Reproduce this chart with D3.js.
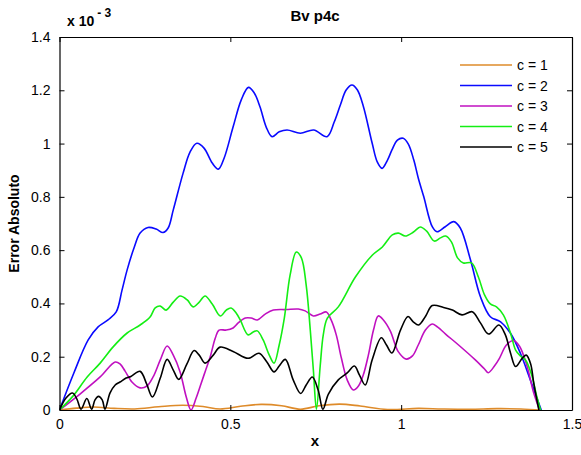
<!DOCTYPE html>
<html>
<head>
<meta charset="utf-8">
<script src="https://cdn.jsdelivr.net/npm/d3@7"></script>
<style>
  body { margin: 0; background: #fff; }
  text { font-family: "Liberation Sans", Arial, sans-serif; fill: #000; }
</style>
</head>
<body>
<div id="chart"></div>
<script>
// values are in units of 1e-3
const labels = ["c = 1", "c = 2", "c = 3", "c = 4", "c = 5"];
const colors = ["#de8b2a", "#0a0aff", "#c010c0", "#14ee14", "#000000"];
const xTicks = [0, 0.5, 1, 1.5];
const yTicks = [0, 0.2, 0.4, 0.6, 0.8, 1, 1.2, 1.4];

const c1 = [[0,0],[0.05,0.007],[0.1,0.011],[0.16,0.006],[0.22,0.004],[0.29,0.012],[0.36,0.018],[0.42,0.013],
  [0.47,0.004],[0.53,0.014],[0.59,0.021],[0.65,0.016],[0.705,0.003],[0.76,0.016],[0.82,0.022],[0.88,0.015],
  [0.96,0.002],[1.05,0.006],[1.12,0.004],[1.2,0.003],[1.28,0.005],[1.35,0.004],[1.41,0]];

const c2 = [[0,0],[0.042,0.139],[0.084,0.263],[0.113,0.312],[0.142,0.338],[0.166,0.368],[0.183,0.450],[0.198,0.526],
  [0.218,0.608],[0.236,0.664],[0.259,0.685],[0.283,0.679],[0.303,0.666],[0.318,0.683],[0.333,0.751],[0.362,0.890],
  [0.382,0.968],[0.402,1.001],[0.423,0.983],[0.447,0.927],[0.465,0.904],[0.482,0.946],[0.508,1.062],[0.532,1.164],
  [0.553,1.211],[0.570,1.190],[0.587,1.137],[0.605,1.062],[0.622,1.026],[0.643,1.044],[0.666,1.051],[0.705,1.039],
  [0.744,1.051],[0.783,1.026],[0.804,1.081],[0.822,1.145],[0.839,1.201],[0.856,1.220],[0.872,1.201],[0.889,1.141],
  [0.915,1.002],[0.930,0.931],[0.944,0.907],[0.960,0.938],[0.973,0.976],[0.989,1.013],[1.006,1.020],[1.021,0.998],
  [1.037,0.938],[1.050,0.871],[1.066,0.801],[1.091,0.688],[1.105,0.669],[1.129,0.688],[1.154,0.707],[1.173,0.683],
  [1.203,0.563],[1.232,0.425],[1.261,0.350],[1.291,0.331],[1.320,0.288],[1.349,0.213],[1.378,0.113],[1.41,0]];

const c3 = [[0,0],[0.060,0.060],[0.119,0.124],[0.163,0.180],[0.177,0.173],[0.192,0.146],[0.212,0.105],[0.236,0.083],
  [0.256,0.090],[0.274,0.124],[0.295,0.188],[0.315,0.240],[0.333,0.206],[0.353,0.143],[0.371,0.049],[0.385,0],
  [0.400,0.045],[0.412,0.090],[0.426,0.143],[0.441,0.199],[0.456,0.270],[0.467,0.300],[0.488,0.300],[0.508,0.308],
  [0.523,0.327],[0.544,0.345],[0.561,0.345],[0.579,0.338],[0.602,0.360],[0.626,0.375],[0.664,0.377],[0.699,0.379],
  [0.719,0.372],[0.743,0.353],[0.763,0.360],[0.781,0.368],[0.795,0.338],[0.810,0.282],[0.825,0.195],[0.842,0.113],
  [0.860,0.075],[0.875,0.090],[0.889,0.131],[0.904,0.206],[0.919,0.300],[0.933,0.353],[0.948,0.338],[0.968,0.297],
  [0.992,0.218],[1.015,0.191],[1.033,0.203],[1.050,0.244],[1.071,0.300],[1.091,0.323],[1.106,0.312],[1.130,0.285],
  [1.168,0.244],[1.217,0.188],[1.244,0.154],[1.255,0.140],[1.273,0.165],[1.288,0.195],[1.308,0.244],[1.329,0.261],
  [1.346,0.240],[1.361,0.195],[1.373,0.143],[1.387,0.068],[1.405,0]];

const c4 = [[0,0],[0.040,0.053],[0.081,0.124],[0.119,0.176],[0.157,0.237],[0.198,0.289],[0.236,0.319],[0.265,0.349],
  [0.280,0.383],[0.295,0.390],[0.312,0.375],[0.333,0.405],[0.353,0.428],[0.374,0.413],[0.391,0.387],[0.409,0.405],
  [0.426,0.428],[0.447,0.398],[0.471,0.353],[0.488,0.375],[0.502,0.383],[0.517,0.364],[0.529,0.338],[0.552,0.282],
  [0.567,0.293],[0.579,0.297],[0.596,0.263],[0.614,0.206],[0.628,0.176],[0.643,0.244],[0.658,0.345],[0.675,0.507],
  [0.693,0.593],[0.708,0.571],[0.722,0.469],[0.734,0.300],[0.743,0.150],[0.752,0.003],[0.763,0.165],[0.772,0.282],
  [0.784,0.345],[0.816,0.387],[0.866,0.499],[0.916,0.582],[0.945,0.612],[0.974,0.657],[0.992,0.664],[1.012,0.653],
  [1.036,0.668],[1.056,0.687],[1.074,0.672],[1.097,0.634],[1.115,0.646],[1.130,0.653],[1.147,0.631],[1.165,0.571],
  [1.182,0.552],[1.206,0.552],[1.226,0.499],[1.244,0.432],[1.261,0.398],[1.279,0.387],[1.299,0.357],[1.320,0.289],
  [1.335,0.225],[1.349,0.203],[1.364,0.188],[1.382,0.131],[1.396,0.056],[1.408,0]];

const c5 = [[0,0],[0.019,0.045],[0.038,0.064],[0.051,0.041],[0.063,0.003],[0.080,0.043],[0.094,0.003],[0.104,0.038],
  [0.114,0.051],[0.125,0.038],[0.133,0.003],[0.148,0.064],[0.163,0.094],[0.177,0.105],[0.195,0.120],[0.209,0.126],
  [0.236,0.145],[0.255,0.098],[0.272,0.049],[0.295,0.120],[0.315,0.190],[0.333,0.150],[0.349,0.115],[0.373,0.173],
  [0.394,0.223],[0.409,0.206],[0.426,0.176],[0.450,0.206],[0.470,0.236],[0.508,0.220],[0.552,0.194],[0.584,0.213],
  [0.607,0.180],[0.628,0.143],[0.643,0.165],[0.661,0.190],[0.684,0.113],[0.706,0.062],[0.722,0.094],[0.740,0.124],
  [0.757,0.075],[0.771,0.003],[0.787,0.060],[0.816,0.113],[0.842,0.139],[0.863,0.165],[0.878,0.131],[0.895,0.094],
  [0.915,0.188],[0.942,0.271],[0.957,0.244],[0.973,0.214],[0.998,0.300],[1.020,0.351],[1.036,0.330],[1.051,0.319],
  [1.071,0.351],[1.091,0.392],[1.124,0.385],[1.150,0.375],[1.178,0.357],[1.208,0.369],[1.232,0.327],[1.256,0.285],
  [1.286,0.319],[1.305,0.282],[1.320,0.214],[1.335,0.163],[1.354,0.194],[1.366,0.206],[1.379,0.173],[1.388,0.101],
  [1.403,0]];

const series = [c1, c2, c3, c4, c5];

const width = 581, height = 455;
const margin = {left: 59.5, right: 9, top: 37, bottom: 45};

const svg = d3.select("#chart").append("svg")
    .attr("width", width).attr("height", height);

const x = d3.scaleLinear().domain([0, 1.5]).range([margin.left, width - margin.right]);
const y = d3.scaleLinear().domain([0, 1.4]).range([height - margin.bottom, margin.top]);

svg.append("clipPath").attr("id", "clip").append("rect")
    .attr("x", x(0)).attr("y", y(1.4)).attr("width", x(1.5) - x(0)).attr("height", y(0) - y(1.4));

// lines
const line = d3.line().x(d => x(d[0])).y(d => y(d[1])).curve(d3.curveCatmullRom.alpha(0.5));
svg.append("g").attr("clip-path", "url(#clip)")
    .selectAll("path").data(series).enter().append("path")
    .attr("d", line)
    .attr("fill", "none")
    .attr("stroke", (d, i) => colors[i])
    .attr("stroke-width", 1.6)
    .attr("stroke-linejoin", "round");

// axes, ticks inward on all four sides
const tickLen = 5;
let xb = d3.axisBottom(x).tickValues(xTicks).tickSizeInner(-tickLen).tickSizeOuter(0).tickPadding(9).tickFormat(d3.format("~g"));
let xt = d3.axisTop(x).tickValues(xTicks).tickSizeInner(-tickLen).tickSizeOuter(0).tickFormat("");
let yl = d3.axisLeft(y).tickValues(yTicks).tickSizeInner(-tickLen).tickSizeOuter(0).tickPadding(9).tickFormat(d3.format("~g"));
let yr = d3.axisRight(y).tickValues(yTicks).tickSizeInner(-tickLen).tickSizeOuter(0).tickFormat("");

svg.append("g").attr("transform", `translate(0,${y(0)})`).call(xb);
svg.append("g").attr("transform", `translate(0,${y(1.4)})`).call(xt);
svg.append("g").attr("transform", `translate(${x(0)},0)`).call(yl);
svg.append("g").attr("transform", `translate(${x(1.5)},0)`).call(yr);

svg.selectAll(".domain").attr("stroke", "#000").attr("stroke-width", 1.2);
svg.selectAll(".tick line").attr("stroke", "#000");
svg.selectAll(".tick text").style("font-size", "14px").style("font-family", "Liberation Sans, Arial, sans-serif");

// title and labels
svg.append("text").attr("x", 315).attr("y", 21).attr("text-anchor", "middle")
    .style("font-size", "15px").style("font-weight", "bold").text("Bv p4c");

let mult = svg.append("text").attr("x", 67).attr("y", 26)
    .style("font-size", "14px").style("font-weight", "bold");
mult.append("tspan").text("x 10");
mult.append("tspan").attr("dx", 3).attr("dy", -9).style("font-size", "12px").text("- 3");

svg.append("text").attr("x", 315).attr("y", 446).attr("text-anchor", "middle")
    .style("font-size", "15px").style("font-weight", "bold").text("x");

svg.append("text").attr("transform", `translate(19,${(y(0) + y(1.4)) / 2}) rotate(-90)`)
    .attr("text-anchor", "middle")
    .style("font-size", "14px").style("font-weight", "bold").text("Error Absoluto");

// legend
const legend = svg.append("g");
labels.forEach((lab, i) => {
    let ly = 65 + i * 20.5;
    legend.append("line").attr("x1", 460).attr("x2", 512).attr("y1", ly).attr("y2", ly)
        .attr("stroke", colors[i]).attr("stroke-width", 1.6);
    legend.append("text").attr("x", 517).attr("y", ly + 5).style("font-size", "14px").text(lab);
});
</script>
</body>
</html>
